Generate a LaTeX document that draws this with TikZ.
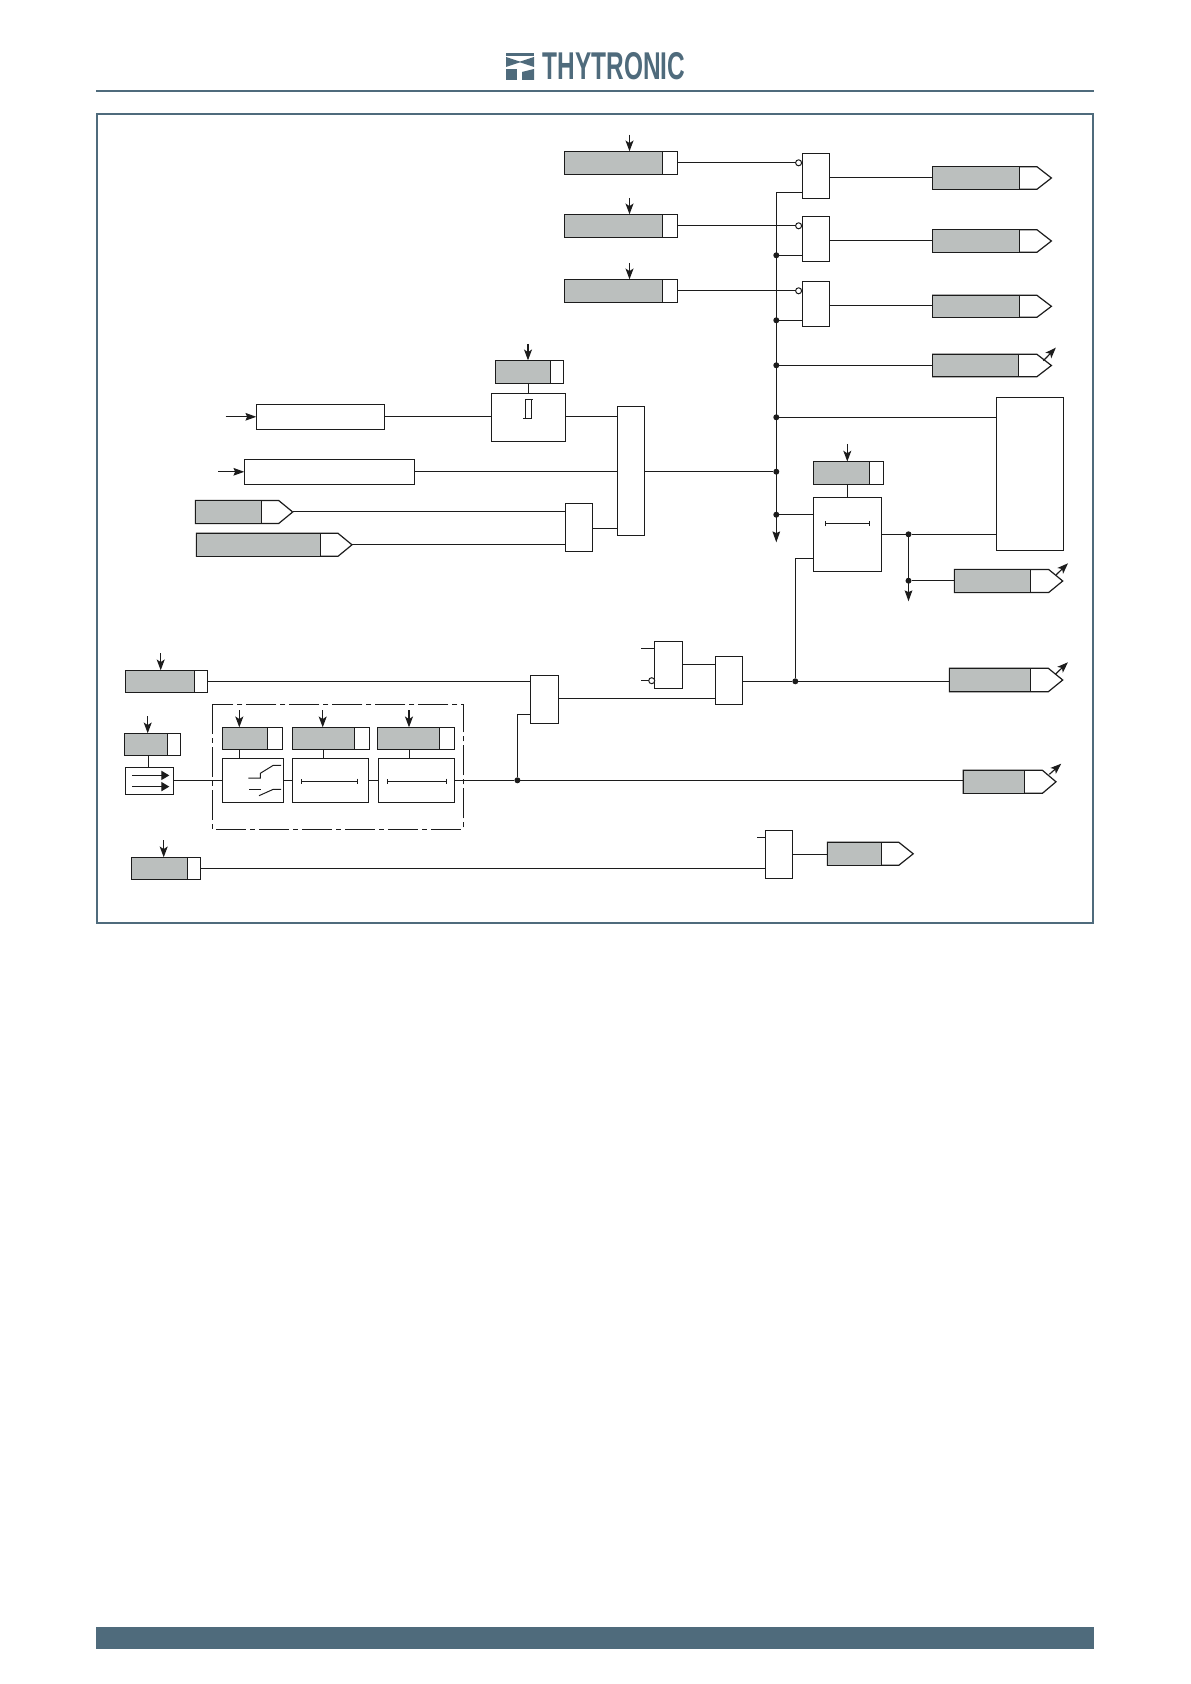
\documentclass[tikz,border=0pt]{standalone}
\usepackage{fontspec}
\setmainfont{Liberation Sans}
\usetikzlibrary{arrows.meta,calc}
\definecolor{brand}{HTML}{4F6B7C}
\definecolor{setgray}{HTML}{BBBFBE}
\definecolor{ink}{HTML}{1C1C1C}
\tikzset{
  wire/.style={draw=ink,line width=0.6pt},
  plainbox/.style={draw=ink,line width=0.6pt,fill=white,inner sep=0pt,outer sep=0pt},
  graybox/.style={draw=ink,line width=0.6pt,fill=setgray,inner sep=0pt,outer sep=0pt},
  ghostbox/.style={inner sep=0pt,outer sep=0pt},
  junction/.style={circle,fill=ink,inner sep=0pt,minimum size=3pt,outer sep=0pt},
  bubble/.style={circle,draw=ink,line width=0.5pt,fill=white,inner sep=0pt,minimum size=3pt,outer sep=0pt},
  arr/.style={wire,-{Stealth[length=5.4pt,width=4pt,inset=1.3pt]}},
  bigarr/.style={wire,-{Stealth[length=5.4pt,width=3.8pt,inset=0.8pt]}},
  blockarr/.style={wire,-{Triangle[length=4pt,width=4.6pt]}},
  ticked/.style={draw=ink,line width=0.5pt,{Bar[width=2.6pt,length=0.5pt]}-{Bar[width=2.6pt,length=0.5pt]}},
}
% generic box: style, name, x1,y1,x2,y2 in px
\newcommand{\mkbox}[6]{%
  \pgfmathsetmacro\myCx{(#3+#5)/2}\pgfmathsetmacro\myCy{(#4+#6)/2}%
  \pgfmathsetmacro\myW{(#5-#3)*0.5}\pgfmathsetmacro\myH{(#6-#4)*0.5}%
  \node[#1,minimum width=\myW pt,minimum height=\myH pt] (#2) at (\myCx,\myCy) {};}
% setting box: name, x1,y1,xdiv,x2,y2
\newcommand{\mkset}[6]{%
  \mkbox{plainbox}{#1}{#2}{#3}{#5}{#6}%
  \mkbox{graybox}{#1-g}{#2}{#3}{#4}{#6}}
% output box: name, x1,y1,xdiv,xshoulder,xtip,y2
\newcommand{\mkout}[7]{%
  \pgfmathsetmacro\myM{(#3+#7)/2}%
  \draw[wire,fill=white] (#2,#3) -- (#5,#3) -- (#6,\myM) -- (#5,#7) -- (#2,#7) -- cycle;
  \mkbox{ghostbox}{#1}{#2}{#3}{#6}{#7}%
  \mkbox{graybox}{#1-g}{#2}{#3}{#4}{#7}}
\begin{document}
\begin{tikzpicture}[x=0.5pt,y=-0.5pt]
\useasboundingbox (0,0) rectangle (1190,1684);
\fill[white] (0,0) rectangle (1190,1684);

% page furniture
\fill[brand] (96,90) rectangle (1094,92);
\draw[brand,line width=1pt] (97,114) rectangle (1093,923);
\fill[brand] (96,1627) rectangle (1094,1649);
% logo
\fill[brand] (506,53) rectangle (534,56);
\fill[brand] (506,57) -- (521,62) -- (506,67) -- cycle;
\fill[brand] (534,57) -- (519,62) -- (534,67) -- cycle;
\fill[brand] (506,69) rectangle (517,80);
\fill[brand] (522,72) -- (534,69) -- (534,80) -- (522,80) -- cycle;
\node[inner sep=0pt,text=brand] (logo) at (614,66.5) {\scalebox{.65}[1.03]{\fontsize{18.8}{20}\selectfont\bfseries THYTRONIC}};

% top settings
\mkset{S1}{564.4}{151.3}{662.2}{677.7}{174.3}
\mkset{S2}{564.4}{214.3}{662.2}{677.7}{237.3}
\mkset{S3}{564.4}{279.3}{662.2}{677.7}{302.3}
% AND gates
\mkbox{plainbox}{G1}{802.4}{153.3}{829.3}{198.3}
\mkbox{plainbox}{G2}{802.4}{216.3}{829.3}{261.3}
\mkbox{plainbox}{G3}{802.4}{281.3}{829.3}{326.3}
% output boxes, right
\mkout{O1}{932.6}{166.7}{1019.3}{1036.9}{1051.4}{189.3}
\mkout{O2}{932.6}{229.7}{1019.3}{1036.9}{1051.4}{252.3}
\mkout{O3}{932.6}{295.3}{1019.3}{1036.9}{1051.4}{317.3}
\mkout{O4}{932.6}{354.3}{1018.3}{1036.9}{1051.4}{376.7}
\mkout{O5}{954.5}{569.5}{1030.5}{1048.7}{1062.7}{592.5}
\mkout{O6}{949.5}{668.3}{1030.5}{1048.3}{1062.7}{691.7}
\mkout{O7}{963.2}{770.3}{1024.6}{1042.4}{1056}{793.3}
\mkout{O8}{827.5}{842.3}{881.4}{898.8}{913.2}{865.3}
% left part
\mkset{Sh}{495.5}{360.3}{550.5}{563.3}{383.3}
\mkbox{plainbox}{Hy}{491.3}{393.3}{565.7}{441.3}
\mkbox{plainbox}{A}{256.3}{404.3}{384.3}{429.3}
\mkbox{plainbox}{B}{244.3}{459.3}{414.3}{484.3}
\mkbox{plainbox}{BG}{617.3}{406.3}{644.3}{535.3}
\mkbox{plainbox}{LG}{565.3}{503.3}{592.3}{551.3}
\mkout{I1}{195.5}{500.5}{261.5}{278.7}{292.7}{523.5}
\mkout{I2}{196.5}{533.3}{320.5}{338}{352}{556.3}
% right block
\mkbox{plainbox}{R}{996.3}{397.3}{1063.3}{550.3}
\mkset{St}{813.5}{461.5}{869.5}{883.5}{484.5}
\mkbox{plainbox}{T}{813.5}{497.3}{881.5}{571.3}
% lower left
\mkset{Sa}{125.5}{670.3}{194.5}{207.5}{692.3}
\mkset{Sb}{124.5}{733.3}{167.5}{180.5}{755.7}
\mkbox{plainbox}{Ar}{125.5}{767.3}{173.5}{794.3}
\draw[ink,line width=0.6pt,dash pattern=on 15pt off 2pt on 2.5pt off 2pt] (212.3,704.3) rectangle (463.3,829.3);
\mkset{Ka}{222.3}{727.3}{267.7}{282.7}{749.3}
\mkset{Kb}{292.3}{727.3}{354.5}{369.3}{749.3}
\mkset{Kc}{377.7}{727.3}{439.3}{454.3}{749.3}
\mkbox{plainbox}{Sw}{222.3}{758.3}{283.7}{802.3}
\mkbox{plainbox}{Tb}{292.3}{758.3}{368.3}{802.3}
\mkbox{plainbox}{Tc}{378.3}{758.3}{454.3}{802.3}
\mkset{Sd}{131.3}{857.3}{187.5}{200.7}{879.3}
% lower gates
\mkbox{plainbox}{H1}{530.3}{675.3}{558.8}{723.3}
\mkbox{plainbox}{H2}{715.3}{656.3}{742.7}{704.3}
\mkbox{plainbox}{H3}{654.3}{641.3}{682.4}{688.3}
\mkbox{plainbox}{H4}{765.3}{830.3}{792.6}{878.3}

% named ports and free ends
\coordinate (G1o) at (829.3,177.3); \coordinate (G1i) at (802.4,192.3);
\coordinate (G2o) at (829.3,240.3); \coordinate (G2i) at (802.4,255.3);
\coordinate (G3o) at (829.3,305.3); \coordinate (G3i) at (802.4,320.3);
\coordinate (busTop) at (776.3,192.3);
\coordinate (busEnd) at (776.3,542.3);
\node[junction] (J2) at (776.3,255.3) {};
\node[junction] (J3) at (776.3,320.3) {};
\node[junction] (J4) at (776.3,365.3) {};
\node[junction] (J5) at (776.3,417.3) {};
\node[junction] (J6) at (776.3,471.7) {};
\node[junction] (J7) at (776.3,514.7) {};
\node[bubble] (B1) at (798.6,162.8) {};
\node[bubble] (B2) at (798.6,225.8) {};
\node[bubble] (B3) at (798.6,290.8) {};
\coordinate (Ri) at (996.3,417.3);
\coordinate (Rj) at (996.3,534.3);
\coordinate (Tij) at (813.5,514.7);
\coordinate (Tik) at (813.5,558.3);
\coordinate (To) at (881.5,534.3);
\node[junction] (J8) at (908.5,534.3) {};
\node[junction] (J9) at (908.5,580.7) {};
\coordinate (J8End) at (908.5,601.3);
\coordinate (BGa) at (617.3,417.3);
\coordinate (BGb) at (617.3,472.3);
\coordinate (BGc) at (617.3,528.3);
\coordinate (BGo) at (644.3,471.7);
\coordinate (LGa) at (565.3,511.3);
\coordinate (LGb) at (565.3,545.3);
\coordinate (LGo) at (592.3,528.3);
\coordinate (I1o) at (292.7,511.7);
\coordinate (I2o) at (352,544.8);
\coordinate (Aext) at (225.7,416.8);
\coordinate (Bext) at (218,471.8);
\coordinate (H1a) at (530.3,681.3);
\coordinate (H1b) at (530.3,714.3);
\coordinate (H1o) at (558.8,698.3);
\coordinate (H2a) at (715.3,664.3);
\coordinate (H2b) at (715.3,698.3);
\coordinate (H2o) at (742.7,681.3);
\coordinate (H3a) at (654.3,648.3);
\coordinate (H3aF) at (641,648.3);
\node[bubble] (B4) at (651.7,680.7) {};
\coordinate (H3bF) at (641,680.7);
\coordinate (H3o) at (682.4,664.3);
\coordinate (H4a) at (765.3,837.3);
\coordinate (H4aF) at (757,837.3);
\coordinate (H4b) at (765.3,868.3);
\coordinate (H4o) at (792.6,854.3);
\node[junction] (J10) at (795.3,681.3) {};
\node[junction] (J11) at (517.4,780.3) {};
\coordinate (Main) at (173.5,780.3);
\coordinate (SwI) at (222.3,780.3);
\coordinate (SwO) at (283.7,780.3);
\coordinate (TbI) at (292.3,780.3);
\coordinate (TbO) at (368.3,780.3);
\coordinate (TcI) at (378.3,780.3);
\coordinate (TcO) at (454.3,780.3);

% free-ended setting arrows
\foreach \nm/\xx/\yy in {S1/629.5/134.7,S2/629.5/198,S3/629.5/263,Sh/528/344,St/847.3/444,Sa/160.7/653.3,Sb/147.7/716,Ka/239.3/710,Kb/322.7/710,Kc/409/710,Sd/163.7/840.3}{
  \coordinate (\nm top) at (\xx,\yy);
  \draw[arr] (\nm top) -- (\nm top |- \nm.north);
}
% gate wiring
\draw[wire] (S1.east) -- (B1.west);
\draw[wire] (S2.east) -- (B2.west);
\draw[wire] (S3.east) -- (B3.west);
\draw[wire] (G1o) -- (G1o -| O1.west);
\draw[wire] (G2o) -- (G2o -| O2.west);
\draw[wire] (G3o) -- (G3o -| O3.west);
\draw[bigarr] (G1i) -- (busTop) -- (busEnd);
\draw[wire] (J2) -- (G2i);
\draw[wire] (J3) -- (G3i);
\draw[wire] (J4) -- (J4 -| O4.west);
\draw[wire] (J5) -- (Ri);
\draw[wire] (J7) -- (Tij);
\draw[wire] (T.north) -- (T.north |- St.south);
\draw[wire] (To) -- (J8) -- (Rj);
\draw[bigarr] (J8) -- (J8End);
\draw[wire] (J9) -- (J9 -| O5.west);
\draw[wire] (J10) |- (Tik);
% hysteresis side
\draw[wire] (Hy.north) -- (Hy.north |- Sh.south);
\draw[bigarr] (Aext) -- (A.west);
\draw[bigarr] (Bext) -- (B.west);
\draw[wire] (A.east) -- (A.east -| Hy.west);
\draw[wire] (A.east -| Hy.east) -- (A.east -| BG.west);
\draw[wire] (B.east) -- (B.east -| BG.west);
\draw[wire] (BGo) -- (J6);
\draw[wire] (LGo) -- (BGc);
\draw[wire] (I1o) -- (LGa |- I1o);
\draw[wire] (I2o) -- (LGb |- I2o);
% hysteresis symbol
\draw[ink,line width=0.5pt] (523.3,418.7) -- (531,418.7) -- (531,399.3) -- (525.7,399.3) -- (525.7,418.7);
\draw[ink,line width=0.5pt] (531,399.3) -- (532.7,399.3);
% timer symbols
\draw[ticked] (825.3,523.7) -- (869.7,523.7);
\draw[ticked] (301.3,781.3) -- (357.7,781.3);
\draw[ticked] (387.3,781.3) -- (446.7,781.3);
% lower-left wiring
\coordinate (cSb) at (148.3,0); \coordinate (cKa) at (239.3,0); \coordinate (cKb) at (323.3,0); \coordinate (cKc) at (409.3,0);
\draw[wire] (Sb.south -| cSb) -- (Ar.north -| cSb);
\draw[wire] (Ka.south -| cKa) -- (Sw.north -| cKa);
\draw[wire] (Kb.south -| cKb) -- (Tb.north -| cKb);
\draw[wire] (Kc.south -| cKc) -- (Tc.north -| cKc);
\draw[wire] (Main) -- (SwI);
\draw[wire] (SwO) -- (TbI);
\draw[wire] (TbO) -- (TcI);
\draw[wire] (TcO) -- (J11) -- (J11 -| O7.west);
\draw[wire] (Sa.east) -- (H1a);
\draw[wire] (J11) |- (H1b);
\draw[wire] (H1o) -- (H2b);
\draw[wire] (H3o) -- (H2a);
\draw[wire] (H2o) -- (J10) -- (J10 -| O6.west);
\draw[wire] (H3aF) -- (H3a);
\draw[wire] (H3bF) -- (B4.west);
\draw[wire] (H4aF) -- (H4a);
\draw[wire] (Sd.east) -- (H4b);
\draw[wire] (H4o) -- (H4o -| O8.west);
% arrow box content
\coordinate (ArA) at (132,775.4); \coordinate (ArB) at (169.3,775.4);
\coordinate (ArC) at (132,786.6); \coordinate (ArD) at (169.3,786.6);
\draw[blockarr] (ArA) -- (ArB);
\draw[blockarr] (ArC) -- (ArD);
% switch symbol
\draw[ink,line width=0.5pt] (248.3,778) -- (260.3,778) -- (260.3,773.3) -- (273.3,765.3) -- (281,765.3);
\draw[ink,line width=0.5pt] (249,789.3) -- (260.7,789.3);
\draw[ink,line width=0.5pt] (259,795.7) -- (273.3,789.3) -- (281,789.3);
% output flag arrows
\foreach \a/\xa/\ya/\xb/\yb in {4/1043.4/360.7/1055.8/347.7,5/1056/575/1068/563.3,6/1055.3/674.3/1067.9/662.3,7/1049.4/774.3/1061.2/763.7}{
  \coordinate (fa\a) at (\xa,\ya); \coordinate (fb\a) at (\xb,\yb);
  \draw[arr] (fa\a) -- (fb\a);
}
\end{tikzpicture}
\end{document}
